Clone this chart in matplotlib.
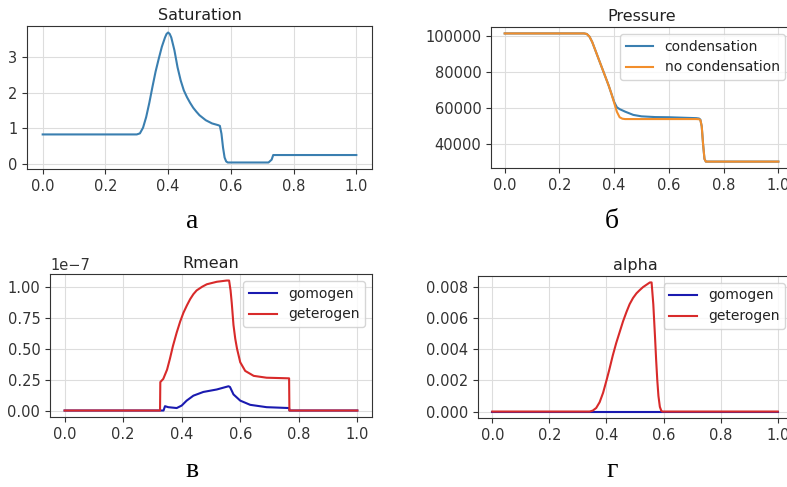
import numpy as np
import matplotlib
matplotlib.use("Agg")
import matplotlib.pyplot as plt

# Saturation
sat_x = [0.0, 0.30, 0.31, 0.32, 0.33, 0.34, 0.35, 0.36, 0.37, 0.38, 0.39, 0.395,
         0.40, 0.405, 0.41, 0.42, 0.43, 0.44, 0.45, 0.46, 0.47, 0.48, 0.49, 0.50,
         0.52, 0.54, 0.56, 0.565, 0.57, 0.575, 0.58, 0.585, 0.59, 0.72, 0.73,
         0.735, 1.0]
sat_y = [0.83, 0.83, 0.86, 1.02, 1.32, 1.72, 2.17, 2.60, 2.96, 3.30, 3.56, 3.66,
         3.70, 3.66, 3.56, 3.20, 2.72, 2.35, 2.07, 1.88, 1.72, 1.58, 1.47, 1.37,
         1.23, 1.14, 1.09, 1.07, 0.85, 0.46, 0.18, 0.07, 0.04, 0.04, 0.12,
         0.25, 0.25]
sat_ticks = [0, 1, 2, 3]

# Pressure
p_x = [0.0, 0.29, 0.30, 0.31, 0.32, 0.33, 0.34, 0.35, 0.36, 0.37, 0.38, 0.39,
       0.40, 0.41, 0.42, 0.43, 0.44, 0.45, 0.47, 0.50, 0.55, 0.60, 0.70, 0.71,
       0.715, 0.72, 0.725, 0.73, 0.735, 1.0]
p_cond = [101300, 101300, 101000, 99500, 96500, 92500, 88500, 84500, 80500, 76500,
          72500, 68000, 63500, 60500, 59500, 58800, 58100, 57500, 56300, 55500,
          55100, 55000, 54500, 54300, 53700, 50000, 40000, 32000, 30500, 30500]
p_nocond = [101300, 101300, 101000, 99500, 96500, 92500, 88500, 84500, 80500, 76500,
            72500, 68000, 63000, 58000, 55000, 54200, 54000, 54000, 54000, 54000,
            54000, 54000, 54000, 53900, 53500, 50000, 40000, 32000, 30500, 30500]
p_ticks = [40000, 60000, 80000, 100000]

# Rmean (x1e-7)
rg_x = [0.0, 0.326, 0.327, 0.337, 0.35, 0.36, 0.37, 0.383, 0.395, 0.406, 0.418,
        0.429, 0.44, 0.451, 0.47, 0.486, 0.52, 0.554, 0.562, 0.567, 0.571, 0.577,
        0.583, 0.589, 0.60, 0.617, 0.646, 0.69, 0.767, 0.768, 1.0]
rg_het = [0.0, 0.0, 0.23, 0.255, 0.33, 0.42, 0.52, 0.63, 0.72, 0.79, 0.85,
          0.90, 0.94, 0.97, 1.00, 1.02, 1.04, 1.05, 1.05, 0.97, 0.87, 0.69,
          0.58, 0.50, 0.39, 0.32, 0.28, 0.265, 0.26, 0.0, 0.0]
rm_x = [0.0, 0.338, 0.343, 0.354, 0.383, 0.40, 0.417, 0.44, 0.474, 0.52, 0.56,
        0.565, 0.577, 0.60, 0.634, 0.69, 0.767, 0.768, 1.0]
rm_hom = [0.0, 0.0, 0.035, 0.027, 0.02, 0.04, 0.08, 0.12, 0.15, 0.17, 0.196,
          0.19, 0.13, 0.08, 0.046, 0.027, 0.02, 0.0, 0.0]
r_ticks = [0.0, 0.25, 0.5, 0.75, 1.0]

# alpha
al_x = [0.0, 0.341, 0.352, 0.364, 0.376, 0.388, 0.40, 0.41, 0.422, 0.434, 0.446,
        0.458, 0.47, 0.481, 0.493, 0.505, 0.516, 0.528, 0.54, 0.552, 0.558,
        0.564, 0.57, 0.574, 0.578, 0.582, 0.587, 0.592, 0.596, 1.0]
al_het = [0.0, 0.0, 0.00006, 0.00023, 0.0006, 0.0012, 0.0020, 0.0027, 0.0036,
          0.0044, 0.0051, 0.0058, 0.0064, 0.0069, 0.0073, 0.0076, 0.0078, 0.0080,
          0.00815, 0.0083, 0.0083, 0.0069, 0.0048, 0.0033, 0.0020, 0.0010,
          0.0003, 0.00005, 0.0, 0.0]
al_hom_x = [0.0, 1.0]
al_hom = [0.0, 0.0]
al_ticks = [0.0, 0.002, 0.004, 0.006, 0.008]

x_ticks = [0.0, 0.2, 0.4, 0.6, 0.8, 1.0]
captions = ["а", "б", "в", "г"]

plt.rcParams["font.size"] = 10.5
plt.rcParams["axes.edgecolor"] = "#333333"
plt.rcParams["xtick.color"] = "#333333"
plt.rcParams["ytick.color"] = "#333333"
plt.rcParams["text.color"] = "#222222"

fig = plt.figure(figsize=(7.87, 4.87), dpi=100)

ax1 = fig.add_axes([0.0343, 0.653, 0.4384, 0.2936])
ax2 = fig.add_axes([0.6239, 0.655, 0.3825, 0.2895])
ax3 = fig.add_axes([0.0635, 0.1437, 0.4091, 0.2936])
ax4 = fig.add_axes([0.6074, 0.1417, 0.399, 0.2916])

ax1.plot(sat_x, sat_y, color="#3a7fb0", lw=1.5)
ax1.set_yticks(sat_ticks)
ax1.set_title("Saturation", fontsize=11.5, pad=4)

ax2.plot(p_x, p_cond, color="#3a7fb0", lw=1.5, label="condensation")
ax2.plot(p_x, p_nocond, color="#f28e2b", lw=1.5, label="no condensation")
ax2.set_yticks(p_ticks)
ax2.set_title("Pressure", fontsize=11.5, pad=4)
ax2.legend(loc="upper right", fontsize=10)

ax3.plot(rm_x, np.array(rm_hom) * 1e-7, color="#1a1ab0", lw=1.5, label="gomogen")
ax3.plot(rg_x, np.array(rg_het) * 1e-7, color="#d82a2a", lw=1.5, label="geterogen")
ax3.set_yticks(np.array(r_ticks) * 1e-7)
ax3.set_title("Rmean", fontsize=11.5, pad=4)
ax3.legend(loc="upper right", fontsize=10)

ax4.plot(al_hom_x, al_hom, color="#1a1ab0", lw=1.5, label="gomogen")
ax4.plot(al_x, al_het, color="#d82a2a", lw=1.5, label="geterogen")
ax4.set_yticks(al_ticks)
ax4.set_title("alpha", fontsize=11.5, pad=4)
ax4.legend(loc="upper right", fontsize=10)

for ax in [ax1, ax2, ax3, ax4]:
    ax.grid(True, color="#dddddd", lw=0.8)
    ax.set_axisbelow(True)
    ax.set_xticks(x_ticks)

cap_pos = [(192, 228), (612, 228), (192, 477), (612, 477)]
for c, (px, py) in zip(captions, cap_pos):
    fig.text(px / 787, 1 - py / 487, c, fontsize=20, family="Liberation Serif",
             color="black", ha="center", va="baseline")

fig.savefig("out.png", dpi=100)
